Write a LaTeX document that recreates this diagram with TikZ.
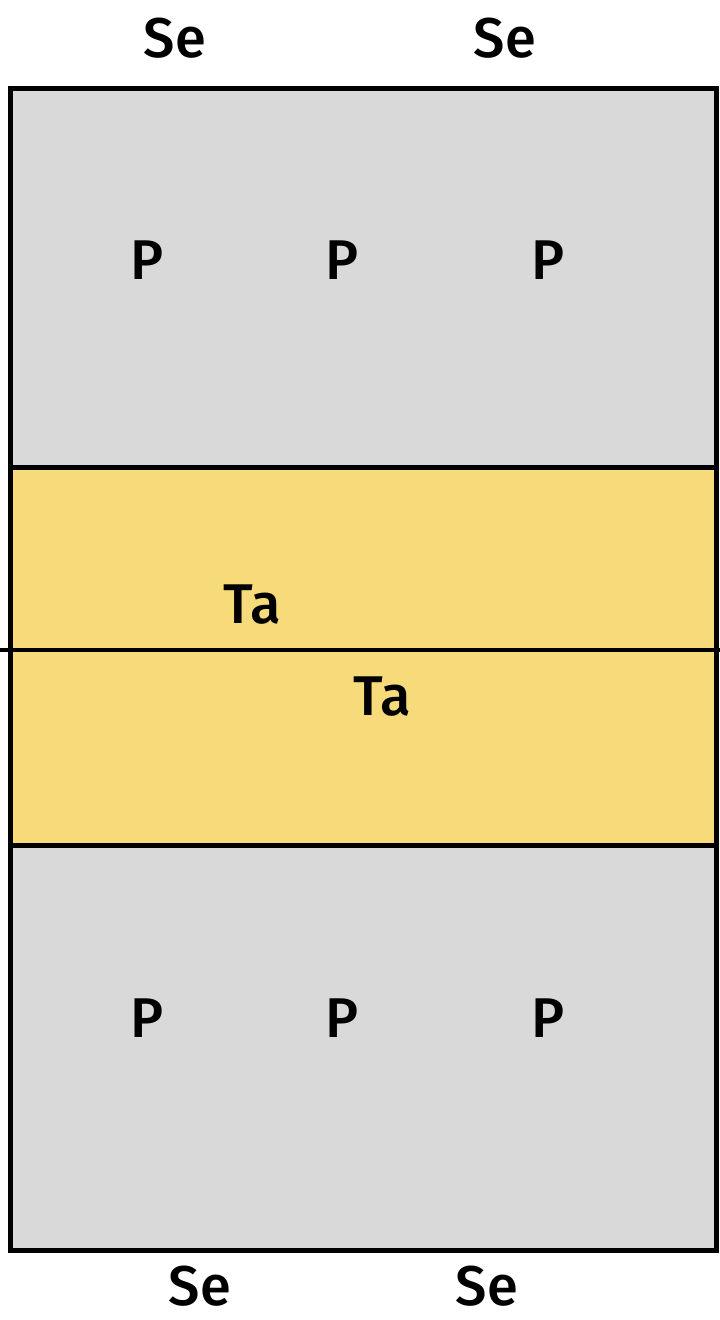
\documentclass[tikz,border=0pt]{standalone}
\usepackage{fontspec}
\setmainfont{Fira Sans}[BoldFont={Fira Sans Medium}]
\definecolor{panelgray}{HTML}{D9D9D9}
\definecolor{panelyellow}{HTML}{F7DA7A}
\tikzset{
  panel/.style={draw=black, line width=5pt},
  lbl/.style={font=\fontsize{56}{60}\selectfont\bfseries, inner sep=0pt, anchor=center},
}
\begin{document}
\begin{tikzpicture}[x=1pt,y=1pt]
\useasboundingbox (0,0) rectangle (720,-1320);
% panels
\draw[panel, fill=panelgray] (10,-88) rectangle (716,-467);
\draw[panel, fill=panelyellow] (10,-467) rectangle (716,-845);
\draw[panel, fill=panelgray] (10,-845) rectangle (716,-1250);
\coordinate (ml) at (0,-650);
\coordinate (mr) at (720,-650);
\draw[line width=4pt] (ml) -- (mr);
% labels
\node[lbl] (se1) at (175,-38) {Se};
\node[lbl] (se2) at (505,-38) {Se};
\node[lbl] (p1) at (147,-260) {P};
\node[lbl] (p2) at (342,-260) {P};
\node[lbl] (p3) at (548,-260) {P};
\node[lbl] (ta1) at (252,-605) {Ta};
\node[lbl] (ta2) at (382,-697) {Ta};
\node[lbl] (p4) at (147,-1018) {P};
\node[lbl] (p5) at (342,-1018) {P};
\node[lbl] (p6) at (548,-1018) {P};
\node[lbl] (se3) at (200,-1286) {Se};
\node[lbl] (se4) at (487,-1286) {Se};
\end{tikzpicture}
\end{document}
